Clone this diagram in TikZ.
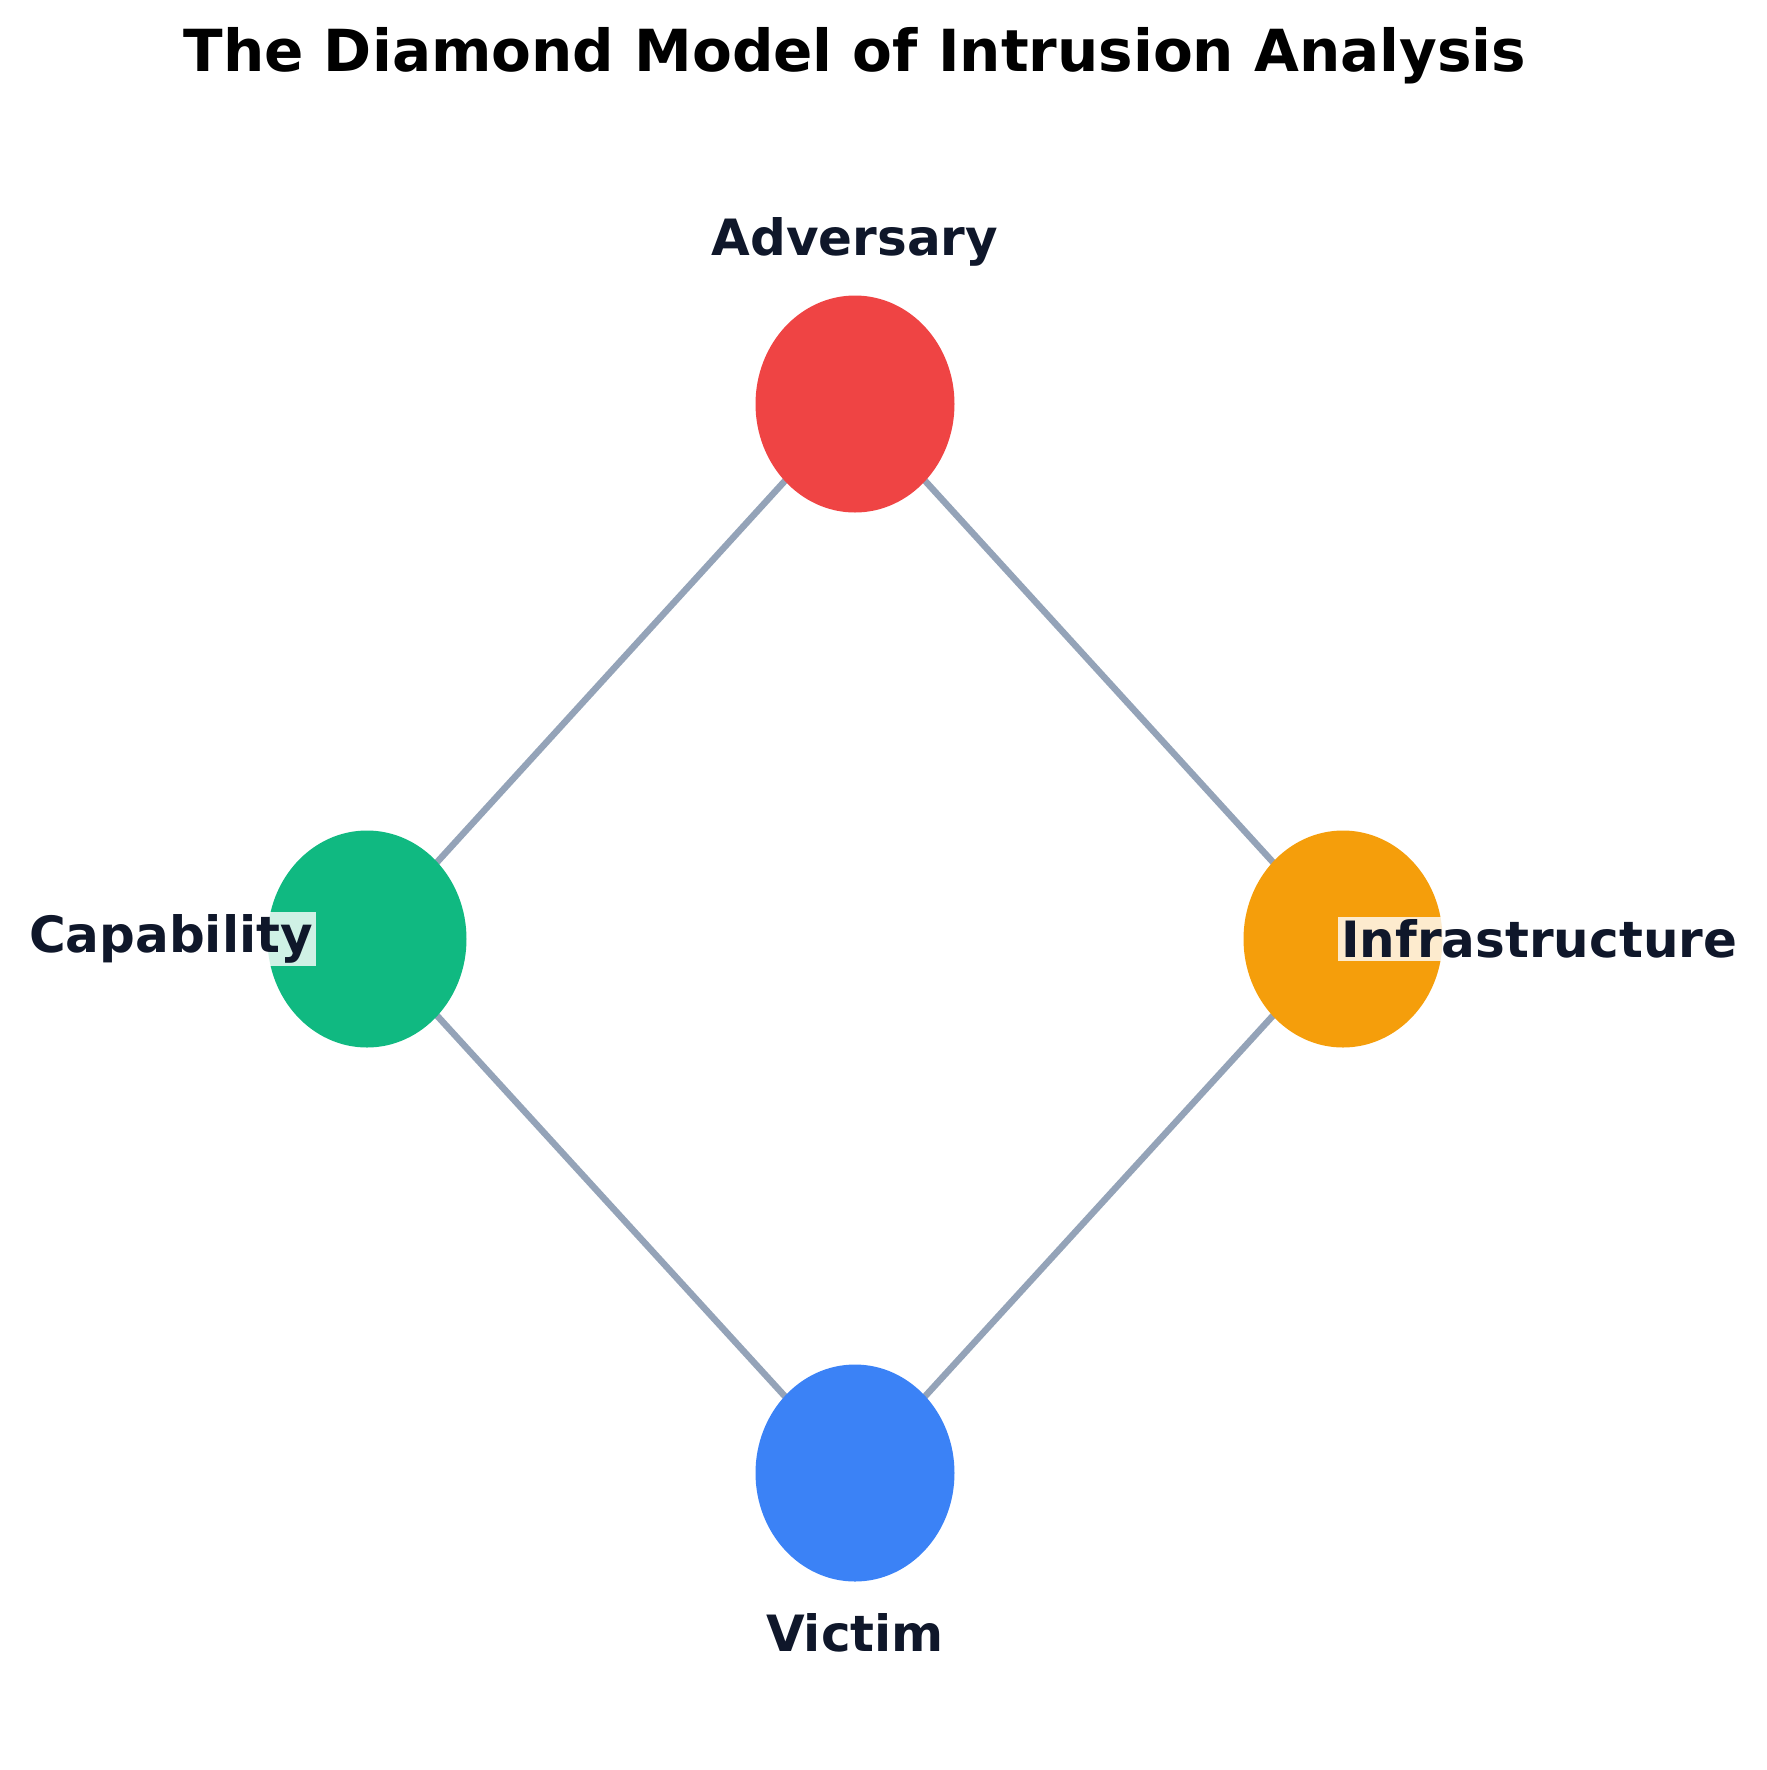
\documentclass[tikz,border=0pt]{standalone}
\usepackage{fontspec}
\setmainfont{DejaVu Sans}
\usetikzlibrary{shapes.geometric}
\definecolor{edge}{HTML}{94A3B8}
\definecolor{txt}{HTML}{0F172A}
\definecolor{cr}{HTML}{EF4444}
\definecolor{cg}{HTML}{10B981}
\definecolor{co}{HTML}{F59E0B}
\definecolor{cb}{HTML}{3B82F6}
\begin{document}
\begin{tikzpicture}[x=1pt,y=-1pt,
  vtx/.style={ellipse,minimum width=199pt,minimum height=217pt,inner sep=0pt,draw=none},
  lab/.style={text=txt,font=\fontsize{50}{58}\selectfont\bfseries,fill=white,fill opacity=0.8,text opacity=1,inner sep=3pt},
  conn/.style={draw=edge,line width=6.5pt}]
\useasboundingbox (0,0) rectangle (1767,1770);
\coordinate (a) at (855,404);
\coordinate (c) at (367,939);
\coordinate (i) at (1343,939);
\coordinate (v) at (855,1473);
\draw[conn] (a) -- (c);
\draw[conn] (a) -- (i);
\draw[conn] (c) -- (v);
\draw[conn] (i) -- (v);
\node[vtx,fill=cr] (A) at (a) {};
\node[vtx,fill=cg] (C) at (c) {};
\node[vtx,fill=co] (I) at (i) {};
\node[vtx,fill=cb] (V) at (v) {};
\node[lab] (la) at (855,242) {Adversary};
\node[lab] (lv) at (855,1633) {Victim};
\node[lab,anchor=east] (lc) at (316,939) {Capability};
\node[lab,anchor=west] (li) at (1338,939) {Infrastructure};
\node[font=\fontsize{58}{68}\selectfont\bfseries] (t) at (855,56) {The Diamond Model of Intrusion Analysis};
\end{tikzpicture}
\end{document}
